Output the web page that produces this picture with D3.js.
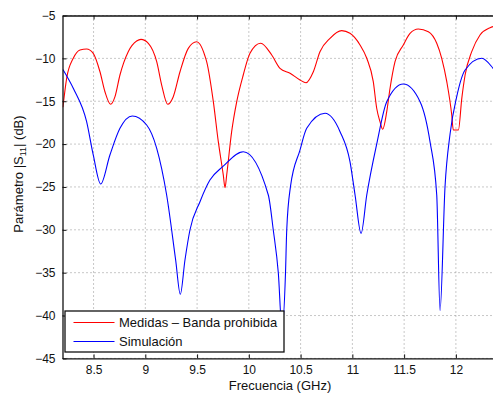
<!DOCTYPE html>
<html>
<head>
<meta charset="utf-8">
<script src="https://cdn.jsdelivr.net/npm/d3@7"></script>
<style>
  html, body { margin: 0; padding: 0; background: #fff; }
  svg { display: block; }
  text { font-family: "Liberation Sans", Arial, Helvetica, sans-serif; fill: #111; }
</style>
</head>
<body>
<svg id="chart" width="493" height="396"></svg>
<script>
// ---- data (frequency in GHz, |S11| in dB) ----
const redFreq = [8.204, 8.240, 8.304, 8.369, 8.433, 8.497, 8.562, 8.610, 8.665, 8.707, 8.755, 8.835, 8.916, 8.958, 9.029, 9.110, 9.158, 9.216, 9.270, 9.335, 9.415, 9.496, 9.528, 9.576, 9.593, 9.657, 9.705, 9.753, 9.770, 9.786, 9.834, 9.883, 9.946, 10.011, 10.114, 10.221, 10.301, 10.398, 10.494, 10.552, 10.623, 10.687, 10.784, 10.897, 10.977, 11.074, 11.139, 11.202, 11.235, 11.267, 11.293, 11.332, 11.364, 11.412, 11.492, 11.557, 11.637, 11.734, 11.815, 11.863, 11.912, 11.960, 11.975, 12.024, 12.057, 12.089, 12.153, 12.233, 12.330, 12.400];
const redS11 = [-15.7, -12.33, -9.99, -9.02, -8.91, -9.41, -11.56, -13.89, -15.36, -14.47, -11.94, -9.22, -7.97, -7.78, -8.24, -10.39, -13.11, -15.36, -14.47, -11.56, -8.83, -8.06, -8.36, -9.72, -10.4, -15.05, -19.72, -23.6, -25.09, -23.6, -18.55, -15.05, -11.94, -9.41, -8.24, -9.61, -11.16, -11.74, -12.52, -12.84, -11.56, -9.22, -7.66, -6.77, -7.08, -8.44, -9.99, -12.72, -15.82, -17.39, -18.27, -16.22, -13.49, -10.39, -8.44, -7.08, -6.57, -6.89, -8.24, -9.99, -12.72, -16.61, -18.36, -18.36, -14.66, -11.94, -9.22, -7.27, -6.42, -6.2];

const blueFreq = [8.204, 8.304, 8.433, 8.497, 8.569, 8.658, 8.755, 8.874, 9.013, 9.110, 9.206, 9.293, 9.338, 9.383, 9.431, 9.528, 9.624, 9.747, 9.946, 10.188, 10.236, 10.285, 10.320, 10.354, 10.366, 10.402, 10.494, 10.559, 10.736, 10.881, 10.977, 11.026, 11.084, 11.139, 11.235, 11.332, 11.492, 11.654, 11.750, 11.815, 11.847, 11.895, 11.944, 12.008, 12.089, 12.250, 12.359, 12.400];
const blueS11 = [-11.3, -13.49, -17.39, -21.27, -24.65, -21.27, -18.16, -16.72, -17.77, -20.49, -25.94, -33.52, -37.52, -33.52, -30.02, -26.72, -24.2, -22.64, -20.89, -25.94, -30.02, -35.07, -41.5, -35.07, -30.02, -24.97, -20.7, -18.16, -16.41, -18.55, -22.05, -25.94, -30.41, -25.94, -20.0, -15.05, -12.99, -15.05, -19.72, -25.94, -39.43, -24.97, -18.8, -14.47, -11.36, -9.99, -11.16, -11.8];

const xTicks = [8.5, 9, 9.5, 10, 10.5, 11, 11.5, 12];
const yTicks = [-5, -10, -15, -20, -25, -30, -35, -40, -45];
const seriesNames = ["Medidas \u2013 Banda prohibida", "Simulaci\u00f3n"];
const seriesColors = ["#ff0000", "#0000ff"];

// ---- layout ----
const svg = d3.select("#chart");
const pL = 62.5, pT = 15.5, pB = 358.4, pR = 497.3;
const x = d3.scaleLinear().domain([8.2, 12.4]).range([pL, pR]);
const y = d3.scaleLinear().domain([-45, -5]).range([pB, pT]);

svg.append("defs").append("clipPath").attr("id", "clip")
  .append("rect").attr("x", pL).attr("y", pT).attr("width", pR - pL).attr("height", pB - pT);

// grid
const grid = svg.append("g");
grid.selectAll("line.vg").data(xTicks).enter().append("line")
  .attr("x1", d => x(d)).attr("x2", d => x(d)).attr("y1", pT).attr("y2", pB)
  .attr("stroke", "#909090").attr("stroke-width", 1).attr("stroke-dasharray", "1,3");
grid.selectAll("line.hg").data(yTicks).enter().append("line")
  .attr("x1", pL).attr("x2", pR).attr("y1", d => y(d)).attr("y2", d => y(d))
  .attr("stroke", "#909090").attr("stroke-width", 1).attr("stroke-dasharray", "1,3");

// lines
const line = d3.line().x(d => x(d[0])).y(d => y(d[1])).curve(d3.curveMonotoneX);
const plot = svg.append("g").attr("clip-path", "url(#clip)");
plot.append("path").datum(redFreq.map((f, i) => [f, redS11[i]]))
  .attr("d", line).attr("fill", "none").attr("stroke", seriesColors[0]).attr("stroke-width", 1.1);
plot.append("path").datum(blueFreq.map((f, i) => [f, blueS11[i]]))
  .attr("d", line).attr("fill", "none").attr("stroke", seriesColors[1]).attr("stroke-width", 1.1);

// axes
const fmt = d => (d < 0 ? "\u2212" + Math.abs(d) : String(d));
const xAxis = svg.append("g").attr("transform", `translate(0,${pB})`)
  .call(d3.axisBottom(x).tickValues(xTicks).tickSizeInner(-4).tickSizeOuter(0).tickPadding(7).tickFormat(fmt));
const xAxisTop = svg.append("g").attr("transform", `translate(0,${pT})`)
  .call(d3.axisTop(x).tickValues(xTicks).tickSizeInner(-4).tickSizeOuter(0).tickFormat(""));
const yAxis = svg.append("g").attr("transform", `translate(${pL},0)`)
  .call(d3.axisLeft(y).tickValues(yTicks).tickSizeInner(-4).tickSizeOuter(0).tickPadding(7).tickFormat(fmt));
[xAxis, xAxisTop, yAxis].forEach(g => {
  g.select(".domain").attr("stroke", "#111").attr("stroke-width", 1.3);
  g.selectAll(".tick line").attr("stroke", "#111");
  g.selectAll("text").attr("font-size", 12).attr("font-family", "Liberation Sans, Arial, sans-serif").attr("fill", "#111");
});

// axis titles
svg.append("text").attr("x", 280).attr("y", 390).attr("text-anchor", "middle")
  .attr("font-size", 13).text("Frecuencia (GHz)");
const yl = svg.append("text").attr("transform", "translate(23,174) rotate(-90)")
  .attr("text-anchor", "middle").attr("font-size", 13);
yl.append("tspan").text("Par\u00e1metro |S");
yl.append("tspan").attr("font-size", 9).attr("dy", 3).text("11");
yl.append("tspan").attr("dy", -3).text("| (dB)");

// legend
const lg = svg.append("g");
lg.append("rect").attr("x", 65).attr("y", 311).attr("width", 219).attr("height", 41)
  .attr("fill", "#fff").attr("stroke", "#111").attr("stroke-width", 1.3);
seriesNames.forEach((name, i) => {
  const yy = 322.5 + i * 19;
  lg.append("line").attr("x1", 73.5).attr("x2", 114.5).attr("y1", yy).attr("y2", yy)
    .attr("stroke", seriesColors[i]).attr("stroke-width", 1.1);
  lg.append("text").attr("x", 119).attr("y", yy + 4.5).attr("font-size", 13).text(name);
});
</script>
</body>
</html>
